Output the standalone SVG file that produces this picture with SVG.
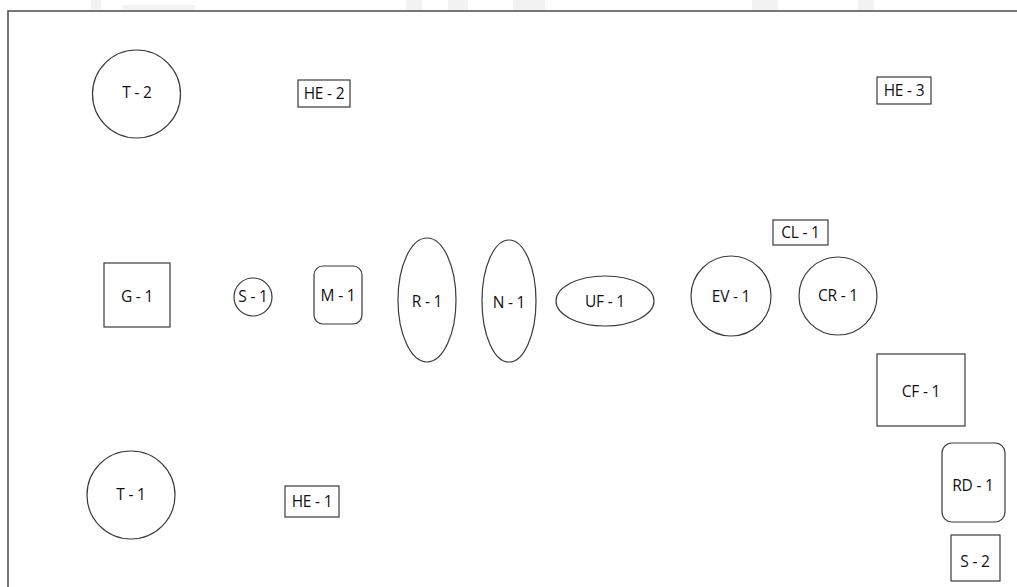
<svg xmlns="http://www.w3.org/2000/svg" width="1017" height="587" viewBox="0 0 1017 587">
<style>
.s{fill:#fff;stroke:#3a3a3a;stroke-width:1.2}
.t{font-family:"Open Sans","Liberation Sans",Arial,sans-serif;font-size:15.5px;fill:#111;text-anchor:middle;dominant-baseline:central;letter-spacing:-0.2px}
.wm{fill:#f2f2f2}
</style>
<rect width="1017" height="587" fill="#fff"/>
<g id="watermark">
<rect class="wm" x="91" y="0" width="10" height="10"/>
<rect class="wm" x="123" y="5" width="72" height="5"/>
<rect class="wm" x="406" y="0" width="16" height="10"/>
<rect class="wm" x="448" y="0" width="20" height="10"/>
<rect class="wm" x="513" y="0" width="32" height="10"/>
<rect class="wm" x="752" y="0" width="26" height="10"/>
<rect class="wm" x="858" y="0" width="16" height="10"/>
</g>
<rect x="8" y="11" width="1020" height="600" fill="none" stroke="#555" stroke-width="1.6"/>
<g id="connectors"></g>
<g id="T-2"><circle class="s" cx="136.5" cy="94" r="44"/><text class="t" x="137" y="92">T - 2</text></g>
<g id="HE-2"><rect class="s" x="298" y="80" width="52" height="27"/><text class="t" x="324" y="93">HE - 2</text></g>
<g id="HE-3"><rect class="s" x="877" y="77" width="54" height="27"/><text class="t" x="904" y="90">HE - 3</text></g>
<g id="CL-1"><rect class="s" x="773" y="220" width="55" height="25"/><text class="t" x="800.5" y="232">CL - 1</text></g>
<g id="G-1"><rect class="s" x="104" y="263" width="66" height="64"/><text class="t" x="137" y="296">G - 1</text></g>
<g id="S-1"><circle class="s" cx="253" cy="297" r="19"/><text class="t" x="253" y="296">S - 1</text></g>
<g id="M-1"><rect class="s" x="314" y="266" width="48" height="58" rx="9"/><text class="t" x="338" y="295">M - 1</text></g>
<g id="R-1"><ellipse class="s" cx="427" cy="300" rx="29" ry="62"/><text class="t" x="427" y="301">R - 1</text></g>
<g id="N-1"><ellipse class="s" cx="509" cy="301" rx="27" ry="61"/><text class="t" x="509" y="302">N - 1</text></g>
<g id="UF-1"><ellipse class="s" cx="605" cy="301" rx="49" ry="25"/><text class="t" x="605" y="301">UF - 1</text></g>
<g id="EV-1"><circle class="s" cx="731" cy="296" r="40"/><text class="t" x="731" y="296">EV - 1</text></g>
<g id="CR-1"><circle class="s" cx="838" cy="296" r="39"/><text class="t" x="838" y="295">CR - 1</text></g>
<g id="CF-1"><rect class="s" x="877" y="354" width="88" height="72"/><text class="t" x="921" y="391">CF - 1</text></g>
<g id="RD-1"><rect class="s" x="942" y="443" width="63" height="79" rx="10"/><text class="t" x="973" y="485">RD - 1</text></g>
<g id="S-2"><rect class="s" x="951" y="535" width="49" height="46"/><text class="t" x="975" y="561">S - 2</text></g>
<g id="T-1"><circle class="s" cx="131" cy="495" r="44"/><text class="t" x="131" y="494">T - 1</text></g>
<g id="HE-1"><rect class="s" x="285" y="486" width="54" height="31"/><text class="t" x="312" y="501">HE - 1</text></g>
</svg>
